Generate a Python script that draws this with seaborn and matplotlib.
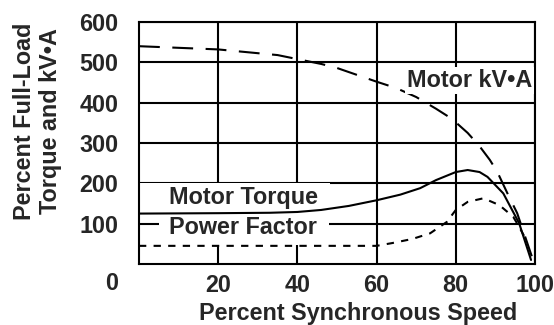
import numpy as np
import pandas as pd
import matplotlib
matplotlib.use("Agg")
import matplotlib.pyplot as plt
from matplotlib.patches import Rectangle
import seaborn as sns

# values (percent synchronous speed -> percent)
kva_speed = [0, 20, 35, 40, 46, 50, 55, 60, 65, 70, 75, 79, 83, 86, 88.6, 90.5, 93, 95.5, 99.5]
kva_value = [540, 532, 518, 508, 496, 486, 469, 452, 436, 414, 385, 360, 325, 292, 258, 228, 176, 126, 10]

torque_speed = [0, 20, 33, 40, 46, 53, 60, 66, 71, 75, 80, 83, 86, 88, 92, 96, 99]
torque_value = [125, 126, 127, 129, 134, 144, 158, 172, 188, 208, 228, 233, 228, 216, 175, 101, 10]

pf_speed = [0, 20, 40, 60, 64, 69, 73.5, 77.7, 80, 83, 87, 91, 94.5, 96, 97.5]
pf_value = [45, 45, 45, 45, 52, 62, 76, 104, 134, 154, 163, 146, 117, 92, 65]

x_ticks = [20, 40, 60, 80, 100]
y_ticks = [100, 200, 300, 400, 500, 600]

sns.set_style("white")
plt.rcParams['font.family'] = ['Liberation Sans', 'DejaVu Sans']
plt.rcParams['font.weight'] = 'bold'
fs = 16.8

fig = plt.figure(figsize=(5.54, 3.25), dpi=100)
ax = fig.add_axes([0.2509, 0.1877, 0.7148, 0.7446])

kva = pd.DataFrame({'speed': kva_speed, 'value': kva_value})
torque = pd.DataFrame({'speed': torque_speed, 'value': torque_value})
pf = pd.DataFrame({'speed': pf_speed, 'value': pf_value})

sns.lineplot(data=kva, x='speed', y='value', ax=ax, color='black', lw=1.5,
             zorder=3).lines[-1].set_dashes((10, 6))
sns.lineplot(data=torque, x='speed', y='value', ax=ax, color='black', lw=1.5, zorder=3)
sns.lineplot(data=pf, x='speed', y='value', ax=ax, color='black', lw=1.5,
             zorder=3).lines[-1].set_dashes((3.5, 3.5))

ax.set_xlim(0, 100)
ax.set_ylim(0, 600)
ax.set_xticks(x_ticks)
ax.set_yticks(y_ticks)
ax.set_xticklabels([str(t) for t in x_ticks], fontsize=fs, fontweight='bold')
ax.set_yticklabels([str(t) for t in y_ticks], fontsize=fs, fontweight='bold')
ax.tick_params(axis='both', length=0)
ax.tick_params(axis='x', pad=7)
ax.tick_params(axis='y', pad=15)
ax.grid(True, color='black', lw=1.5)
ax.set_axisbelow(True)
for s in ax.spines.values():
    s.set_color('black')
    s.set_linewidth(1.5)
    s.set_zorder(4)

# white areas behind the labels that hide the grid
ax.add_patch(Rectangle((0.3, 127), 48, 73, facecolor='white', edgecolor='none', zorder=1.5))
ax.add_patch(Rectangle((5, 47), 43, 80, facecolor='white', edgecolor='none', zorder=1.5))

ax.text(26.5, 166, 'Motor Torque', fontsize=fs, fontweight='bold', ha='center', va='center', zorder=5)
ax.text(26.2, 91, 'Power Factor', fontsize=fs, fontweight='bold', ha='center', va='center', zorder=5)
ax.text(83.5, 455, 'Motor kV\u2022A', fontsize=fs, fontweight='bold', ha='center', va='center', zorder=5,
        bbox=dict(facecolor='white', edgecolor='none', pad=1.5))

ax.annotate('0', xy=(0, 0), xycoords='data', xytext=(-19.4, -14), textcoords='offset points',
            fontsize=fs, fontweight='bold', ha='center', va='center')

ax.set_xlabel('Percent Synchronous Speed', fontsize=fs, fontweight='bold')
ax.xaxis.set_label_coords(0.553, -0.155)
ax.set_ylabel('Percent Full-Load\nTorque and kV\u2022A', fontsize=fs, fontweight='bold',
              linespacing=1.15)
ax.yaxis.set_label_coords(-0.195, 0.59)

fig.savefig('out.png', dpi=100)
